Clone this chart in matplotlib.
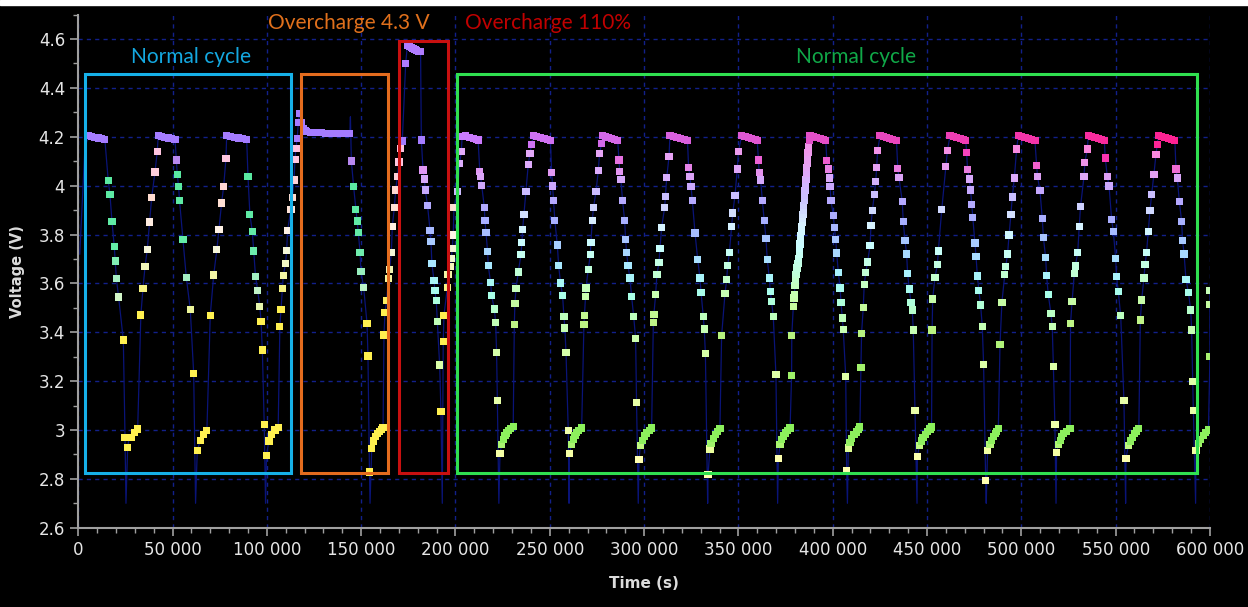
import numpy as np
import matplotlib.pyplot as plt
from matplotlib.patches import Rectangle
from matplotlib.ticker import MultipleLocator

# voltage vs time (time in s, voltage in V)
normal_a = [
    (5300, 4.205), (7000, 4.200), (8800, 4.198), (10600, 4.195), (12400, 4.192), (14100, 4.190),
    (15900, 4.020), (16800, 3.965), (17900, 3.852), (19100, 3.751), (19600, 3.692), (20200, 3.620),
    (21400, 3.544), (23900, 3.368), (24800, 2.969),
    (26200, 2.929), (27000, 2.969), (28300, 2.969), (29700, 2.990), (31500, 3.004),
    (33200, 3.471), (34300, 3.579), (35400, 3.668), (36600, 3.739), (37800, 3.851), (38900, 3.950),
    (40700, 4.056), (41900, 4.141),
    (42400, 4.205), (44200, 4.200), (46000, 4.198), (47800, 4.195), (49500, 4.192), (51300, 4.190),
    (52000, 4.105), (52500, 4.046), (53200, 3.995), (53700, 3.938), (55500, 3.780), (57300, 3.624),
    (59400, 3.493), (61200, 3.231),
    (63100, 2.915), (64700, 2.958), (66500, 2.983), (68200, 2.997),
    (70000, 3.470), (71800, 3.634), (73500, 3.739), (74600, 3.821), (76000, 3.929), (77100, 3.997),
    (78300, 4.110),
    (78700, 4.205), (80800, 4.200), (82900, 4.198), (85000, 4.195), (87100, 4.192), (89300, 4.190),
    (90000, 4.036), (91000, 3.883), (92300, 3.811), (93000, 3.733), (94000, 3.627), (95100, 3.572),
    (96300, 3.504), (96900, 3.444), (97600, 3.327), (98600, 3.024),
    (99800, 2.897), (101100, 2.955), (102500, 2.983), (104300, 3.000), (106000, 3.010),
    (106900, 3.425), (107500, 3.494), (108200, 3.580), (108700, 3.631), (109900, 3.682), (110500, 3.736),
    (111000, 3.818), (112800, 3.904), (113500, 3.951), (114400, 4.023), (114900, 4.107), (115400, 4.153),
    (116100, 4.193),
]

over_43 = [
    (116700, 4.260), (117200, 4.296), (118400, 4.260), (119300, 4.235), (120200, 4.225), (121100, 4.221),
    (123000, 4.218), (125000, 4.217), (127000, 4.216), (129000, 4.216), (131000, 4.215), (133000, 4.215),
    (135000, 4.215), (137000, 4.214), (139000, 4.214), (141000, 4.214), (143000, 4.214), (144000, 4.214),
    (144800, 4.101), (146000, 3.996), (147200, 3.904), (147900, 3.855), (148500, 3.807), (149400, 3.728),
    (149900, 3.648), (151300, 3.584), (153100, 3.437), (153600, 3.303), (154400, 2.828),
    (155600, 2.925), (156600, 2.955), (157600, 2.972), (158600, 2.985), (159600, 2.995), (160600, 3.003),
    (161600, 3.010),
    (162100, 3.389), (162600, 3.480), (163500, 3.529), (164400, 3.620), (165100, 3.657), (166000, 3.726),
    (166500, 3.832), (167600, 3.911), (168300, 3.982), (169200, 4.037), (170000, 4.097), (170900, 4.153),
    (171800, 4.183),
]

over_110 = [
    (173600, 4.500), (174500, 4.575), (175500, 4.572), (176500, 4.566), (177500, 4.560), (178500, 4.556),
    (179500, 4.552), (180500, 4.550), (181500, 4.548),
    (181900, 4.187), (182800, 4.064), (183500, 4.027), (184000, 3.982), (185200, 3.918), (186500, 3.818),
    (187000, 3.771), (187500, 3.682), (188600, 3.611), (189100, 3.570), (189800, 3.529), (190400, 3.443),
    (191600, 3.266), (192300, 3.077),
    (193500, 3.361), (193900, 3.470), (195700, 3.584), (196000, 3.637), (197400, 3.668), (197800, 3.702),
    (198300, 3.743), (198800, 3.798), (199200, 3.910), (201000, 3.975), (202200, 4.091), (203100, 4.139),
]

normal_b = [
    (203500, 4.200), (205500, 4.205), (207500, 4.198), (209500, 4.193), (211000, 4.190), (212000, 4.187),
    (212900, 4.058), (213300, 4.036), (213900, 4.002), (215300, 3.911), (215600, 3.859), (216200, 3.807),
    (217000, 3.731), (217400, 3.672), (218600, 3.604), (219200, 3.549), (220600, 3.495), (221300, 3.440),
    (221800, 3.317), (222200, 3.122),
    (223600, 2.904), (224500, 2.942), (225500, 2.960), (226200, 2.976), (227200, 2.988), (228000, 2.997),
    (229300, 3.005), (230600, 3.013),
    (231200, 3.431), (231500, 3.518), (232100, 3.579), (233300, 3.647), (234700, 3.717), (235200, 3.766),
    (235600, 3.821), (236300, 3.883), (237400, 3.976), (238600, 4.088), (239500, 4.132), (240400, 4.170),
    (241200, 4.204), (243100, 4.202), (245000, 4.197), (246900, 4.192), (248800, 4.188), (250300, 4.186),
    (251000, 4.054), (251500, 3.999), (252000, 3.938), (252700, 3.856), (254000, 3.757), (254700, 3.672),
    (255700, 3.602), (256800, 3.549), (257500, 3.463), (258000, 3.417), (258600, 3.317), (259800, 2.997),
    (260400, 2.904), (261600, 2.942), (262500, 2.962), (263400, 2.978), (264300, 2.990), (265300, 2.999),
    (266900, 3.008),
    (268100, 3.431), (268400, 3.470), (269000, 3.545), (269200, 3.581), (270400, 3.658), (271500, 3.717),
    (271800, 3.768), (272500, 3.856), (273200, 3.911), (274500, 3.976), (275700, 4.061), (276400, 4.132),
    (277500, 4.173),
    (277800, 4.204), (279500, 4.202), (281200, 4.197), (282900, 4.192), (284500, 4.188), (286000, 4.186),
    (286700, 4.105), (287100, 4.057), (287700, 4.024), (288600, 3.938), (289700, 3.856), (290200, 3.781),
    (290700, 3.727), (291500, 3.672), (292500, 3.622), (293400, 3.545), (294500, 3.463), (295500, 3.376),
    (296000, 3.113),
    (297300, 2.878), (298000, 2.935), (299000, 2.958), (300200, 2.975), (301400, 2.988), (302700, 2.998),
    (304000, 3.008),
    (304900, 3.440), (305200, 3.474), (306100, 3.553), (306800, 3.638), (307900, 3.684), (308400, 3.743),
    (309300, 3.829), (310900, 3.911), (311300, 3.956), (312000, 4.034), (313200, 4.118),
    (313700, 4.204), (315600, 4.202), (317500, 4.197), (319400, 4.192), (321300, 4.188), (323000, 4.186),
    (323600, 4.074), (324300, 4.036), (324900, 3.995), (325600, 3.938), (327000, 3.806), (328400, 3.699),
    (329600, 3.622), (330200, 3.563), (331400, 3.463), (331900, 3.413), (332500, 3.313),
    (333900, 2.817), (334900, 2.922), (335500, 2.945), (336700, 2.965), (337800, 2.980), (339000, 2.993),
    (340200, 3.005),
    (341100, 3.386), (342900, 3.559), (343800, 3.617), (344300, 3.672), (345200, 3.725), (346400, 3.834),
    (347000, 3.888), (348200, 3.961), (349400, 4.068), (350000, 4.139),
    (351700, 4.204), (353500, 4.202), (355300, 4.197), (357100, 4.192), (358900, 4.188), (360000, 4.186),
    (360600, 4.105), (361000, 4.054), (361800, 4.023), (362700, 3.938), (363700, 3.856), (364600, 3.785),
    (365300, 3.698), (366400, 3.622), (366900, 3.566), (367600, 3.526), (368500, 3.463), (369900, 3.226),
    (371200, 2.884), (372100, 2.942), (373000, 2.960), (373800, 2.975), (375000, 2.988), (376200, 2.998),
    (377400, 3.008),
    (378200, 3.222), (378300, 3.386), (379100, 3.504), (379500, 3.540), (379700, 3.556), (380000, 3.590),
    (380300, 3.615), (380500, 3.638), (380700, 3.647), (380900, 3.655), (381100, 3.663), (381300, 3.670),
    (381600, 3.680), (381800, 3.686), (382000, 3.703), (382200, 3.720), (382500, 3.742), (382700, 3.761),
    (382900, 3.778), (383100, 3.795), (383300, 3.813), (383500, 3.832), (383800, 3.849), (384000, 3.865),
    (384200, 3.881), (384400, 3.897), (384700, 3.918), (384900, 3.940), (385100, 3.960), (385300, 3.979),
    (385600, 4.002), (385800, 4.025), (386000, 4.050), (386200, 4.074), (386500, 4.090), (386700, 4.105),
    (386900, 4.136), (387100, 4.148), (387300, 4.160), (387600, 4.184),
    (388000, 4.204), (389800, 4.202), (391600, 4.197), (393400, 4.192), (395200, 4.188), (396300, 4.186),
    (396900, 4.102), (397700, 4.068), (398200, 4.031), (398600, 3.995), (399100, 3.938), (400300, 3.879),
    (400900, 3.829), (401600, 3.781), (402100, 3.724), (403000, 3.643), (403900, 3.581), (404400, 3.522),
    (405100, 3.458), (405600, 3.411), (406900, 3.218), (407400, 2.833),
    (408300, 2.926), (409200, 2.948), (410100, 2.965), (411300, 2.980), (412500, 2.992), (413600, 3.003),
    (414400, 3.012),
    (415000, 3.256), (415300, 3.396), (416200, 3.501), (416700, 3.594), (417500, 3.643), (418500, 3.688),
    (419800, 3.754), (420300, 3.838), (421000, 3.897), (422100, 3.965), (422800, 4.016), (423300, 4.074),
    (423800, 4.143),
    (425100, 4.204), (426800, 4.202), (428500, 4.197), (430200, 4.192), (431900, 4.188), (433800, 4.186),
    (434500, 4.070), (435100, 4.034), (436900, 3.934), (437400, 3.852), (438300, 3.777), (439200, 3.720),
    (439700, 3.641), (440600, 3.577), (441500, 3.522), (442200, 3.491), (442700, 3.409), (443600, 3.081),
    (444900, 2.890), (445900, 2.935), (446900, 2.955), (447900, 2.970), (449000, 2.983), (450400, 2.994),
    (451600, 3.004), (452400, 3.012),
    (452700, 3.409), (453000, 3.536), (454200, 3.624), (455500, 3.676), (456000, 3.733), (457800, 3.901),
    (460000, 4.079), (460800, 4.143),
    (462200, 4.204), (464000, 4.202), (465800, 4.197), (467600, 4.192), (469400, 4.188), (470500, 4.186),
    (471000, 4.136), (471500, 4.065), (472400, 4.027), (473100, 3.982), (473700, 3.924), (474200, 3.870),
    (475400, 3.765), (476000, 3.710), (476700, 3.630), (477500, 3.570), (478400, 3.512), (479300, 3.425),
    (480000, 3.267), (481100, 2.792),
    (482100, 2.915), (483400, 2.940), (484300, 2.958), (485100, 2.972), (486300, 2.985), (487000, 2.995),
    (487800, 3.005),
    (488700, 3.349), (489700, 3.522), (491200, 3.635), (491700, 3.668), (492700, 3.720), (493500, 3.798),
    (494500, 3.883), (495200, 3.954), (496300, 4.031), (497500, 4.150),
    (498400, 4.204), (500200, 4.202), (502000, 4.197), (503800, 4.192), (505600, 4.188), (507200, 4.186),
    (508100, 4.084), (508600, 4.036), (509900, 3.979), (511100, 3.866), (511700, 3.788), (512900, 3.706),
    (513400, 3.631), (514300, 3.553), (515700, 3.477), (516400, 3.422), (517000, 3.259), (517800, 3.024),
    (518700, 2.908), (519600, 2.940), (520600, 2.958), (521500, 2.972), (522500, 2.985), (523800, 2.995),
    (525800, 3.005),
    (526100, 3.436), (526900, 3.525), (528100, 3.641), (528600, 3.671), (529900, 3.725), (530700, 3.832),
    (531400, 3.915), (533200, 4.036), (533700, 4.096), (535000, 4.150),
    (535500, 4.204), (537300, 4.202), (539100, 4.197), (540900, 4.192), (542700, 4.188), (544000, 4.186),
    (544500, 4.113), (545600, 4.036), (546500, 3.999), (547900, 3.860), (548800, 3.811), (550000, 3.703),
    (550500, 3.627), (551400, 3.567), (552700, 3.467), (554400, 3.122),
    (555500, 2.884), (556700, 2.935), (557700, 2.955), (558800, 2.970), (560000, 2.985), (561200, 2.996),
    (562300, 3.006),
    (563100, 3.450), (563800, 3.532), (565000, 3.622), (565600, 3.676), (566400, 3.727), (567300, 3.811),
    (568200, 3.897), (569100, 3.965), (570300, 4.047), (571400, 4.129), (572100, 4.170),
    (572600, 4.204), (574400, 4.202), (576200, 4.197), (578000, 4.192), (579800, 4.188), (581400, 4.186),
    (582000, 4.068), (582700, 4.031), (583800, 3.934), (585000, 3.852), (585500, 3.774), (586300, 3.720),
    (587300, 3.615), (588600, 3.563), (589800, 3.491), (590300, 3.409), (590900, 3.197), (591200, 3.081),
    (592600, 2.915), (593800, 2.945), (595000, 2.962), (596500, 2.978), (597800, 2.990), (599200, 3.000),
    (600000, 3.300), (600000, 3.515), (600000, 3.572),
]

# points of the trace that carry no marker (start, end-of-discharge dips, 4.3 V blip)
trace_only = [
    (800, 3.72), (3500, 4.15), (25300, 2.70), (62200, 2.70), (99300, 2.70), (144300, 4.282),
    (154700, 2.70), (193000, 2.70), (223000, 2.70), (260200, 2.70), (296900, 2.70), (333700, 2.70),
    (370800, 2.70), (407800, 2.70), (444700, 2.70), (481400, 2.70), (518400, 2.70), (555300, 2.70),
    (592400, 2.70),
]

x_ticks = np.arange(0, 600001, 50000)
x_labels = ['0', '50 000', '100 000', '150 000', '200 000', '250 000', '300 000',
            '350 000', '400 000', '450 000', '500 000', '550 000', '600 000']
y_ticks = np.arange(2.6, 4.61, 0.2)
y_labels = ['2.6', '2.8', '3', '3.2', '3.4', '3.6', '3.8', '4', '4.2', '4.4', '4.6']

pts = np.array(normal_a + over_43 + over_110 + normal_b)
t, v = pts[:, 0], pts[:, 1]
trace = np.array(sorted(normal_a + over_43 + over_110 + normal_b + trace_only))


def rgb(h):
    h = h.lstrip('#')
    return np.array([int(h[i:i + 2], 16) / 255 for i in (0, 2, 4)])


def ramp(x, stops):
    xs = [s[0] for s in stops]
    cs = np.array([rgb(s[1]) for s in stops])
    return np.array([np.interp(x, xs, cs[:, k]) for k in range(3)])


early_dis = [(2.8, '#fff050'), (3.45, '#fff050'), (3.52, '#e0f8c8'), (3.6, '#b0f0c8'),
             (3.75, '#64eca8'), (4.07, '#58e8a0'), (4.08, '#b888f0'), (4.2, '#b888f0')]
early_chg = [(2.8, '#fff050'), (3.5, '#fff050'), (3.6, '#f5f590'), (3.7, '#f0f8d0'),
             (3.8, '#fff4e8'), (3.95, '#ffdcd0'), (4.1, '#ffc8e0'), (4.2, '#ffc0e0')]
late_dis = [(2.8, '#ffffb0'), (3.1, '#e8ffa8'), (3.3, '#d8ffa8'), (3.45, '#c0ffb8'),
            (3.55, '#a8ffe8'), (3.65, '#a8f0ff'), (3.75, '#a8d0ff'), (3.85, '#a8b0ff'),
            (3.95, '#b8a8ff'), (4.05, '#e0a8f8'), (4.2, '#e0a8f8')]
late_chg = [(2.88, '#ffffb0'), (2.92, '#f0ffa0'), (2.95, '#90f060'), (3.05, '#88f058'),
            (3.3, '#a8f070'), (3.45, '#c0f488'), (3.55, '#c8ffb0'), (3.65, '#c0ffd8'),
            (3.75, '#c8ffff'), (3.85, '#d8f0ff'), (3.95, '#c8c0ff'), (4.05, '#d8b0ff'),
            (4.2, '#e8a8f8')]

colors = []
for i in range(len(t)):
    ti, vi = t[i], v[i]
    rising = True if i == len(t) - 1 else v[i + 1] > vi
    p = np.clip((ti - 200000) / 390000, 0, 1)
    if vi >= 4.45:
        c = rgb('#b07cff')
    elif vi >= 4.165:
        if ti < 200000:
            c = rgb('#a57cff')
        else:
            c = (1 - p) * rgb('#c87cff') + p * rgb('#ff2090')
    elif rising:
        if ti < 200000:
            c = ramp(vi, early_chg)
        else:
            c = ramp(vi, late_chg)
            if vi > 4.0:
                f = min((vi - 4.0) / 0.15, 1) * p
                c = (1 - f) * c + f * rgb('#ff80d8')
    else:
        if ti < 170000:
            c = ramp(vi, early_dis)
        else:
            c = ramp(vi, late_dis)
            if vi > 4.03:
                f = min((vi - 4.03) / 0.08, 1)
                top = (1 - p) * rgb('#e080f0') + p * rgb('#ff2aa8')
                c = (1 - f) * c + f * top
    colors.append(np.clip(c, 0, 1))

fig = plt.figure(figsize=(12.48, 6.07), dpi=100, facecolor='black')
fig.patches.append(Rectangle((0, 1 - 5 / 607), 1, 5 / 607, transform=fig.transFigure,
                             color='white', zorder=0))
ax = fig.add_axes([0.0627, 0.1306, 0.9068, 0.8453], facecolor='black')

ax.plot(trace[:, 0], trace[:, 1], color='#0a1478', lw=0.9, zorder=2)
ax.scatter(t, v, s=27, marker='s', c=colors, linewidths=0, zorder=3)

ax.set_xlim(0, 600000)
ax.set_ylim(2.6, 4.7)
ax.set_xticks(x_ticks)
ax.set_xticklabels(x_labels)
ax.set_yticks(y_ticks)
ax.set_yticklabels(y_labels)
ax.xaxis.set_minor_locator(MultipleLocator(10000))
ax.yaxis.set_minor_locator(MultipleLocator(0.1))
ax.tick_params(which='major', colors='#a0a0a0', labelcolor='#e6e6e6', labelsize=12,
               length=6, width=1.2, direction='out')
ax.tick_params(which='minor', colors='#a0a0a0', length=3.5, width=1)
ax.grid(True, which='major', color='#12208a', lw=1, linestyle=(0, (3, 3)))

for s in ['top', 'right']:
    ax.spines[s].set_visible(False)
for s in ['left', 'bottom']:
    ax.spines[s].set_color('#a0a0a0')
    ax.spines[s].set_linewidth(1.5)

ax.set_xlabel('Time (s)', color='#dcdcdc', fontsize=11, fontweight='bold', labelpad=12)
ax.set_ylabel('Voltage (V)', color='#dcdcdc', fontsize=10.5, fontweight='bold', labelpad=10)

# annotated regions
boxes = [(3550, 112780, 4.457, '#16b0e8'), (117900, 164030, 4.457, '#e46c1e'),
         (169870, 195850, 4.593, '#c81010'), (200620, 592960, 4.457, '#30e050')]
for x0, x1, top, col in boxes:
    ax.add_patch(Rectangle((x0, 2.822), x1 - x0, top - 2.822, fill=False,
                           edgecolor=col, lw=2.2, zorder=4))

tfont = dict(family=['Lato', 'DejaVu Sans'], fontsize=15, ha='center', va='center', zorder=5)
ax.text(60000, 4.527, 'Normal cycle', color='#14a8e0', **tfont)
ax.text(143500, 4.666, 'Overcharge 4.3 V', color='#e0701c', clip_on=False, **tfont)
ax.text(249000, 4.666, 'Overcharge 110%', color='#c00000', clip_on=False, **tfont)
ax.text(412400, 4.527, 'Normal cycle', color='#10a848', **tfont)

fig.savefig('out.png', dpi=100, facecolor='black')
